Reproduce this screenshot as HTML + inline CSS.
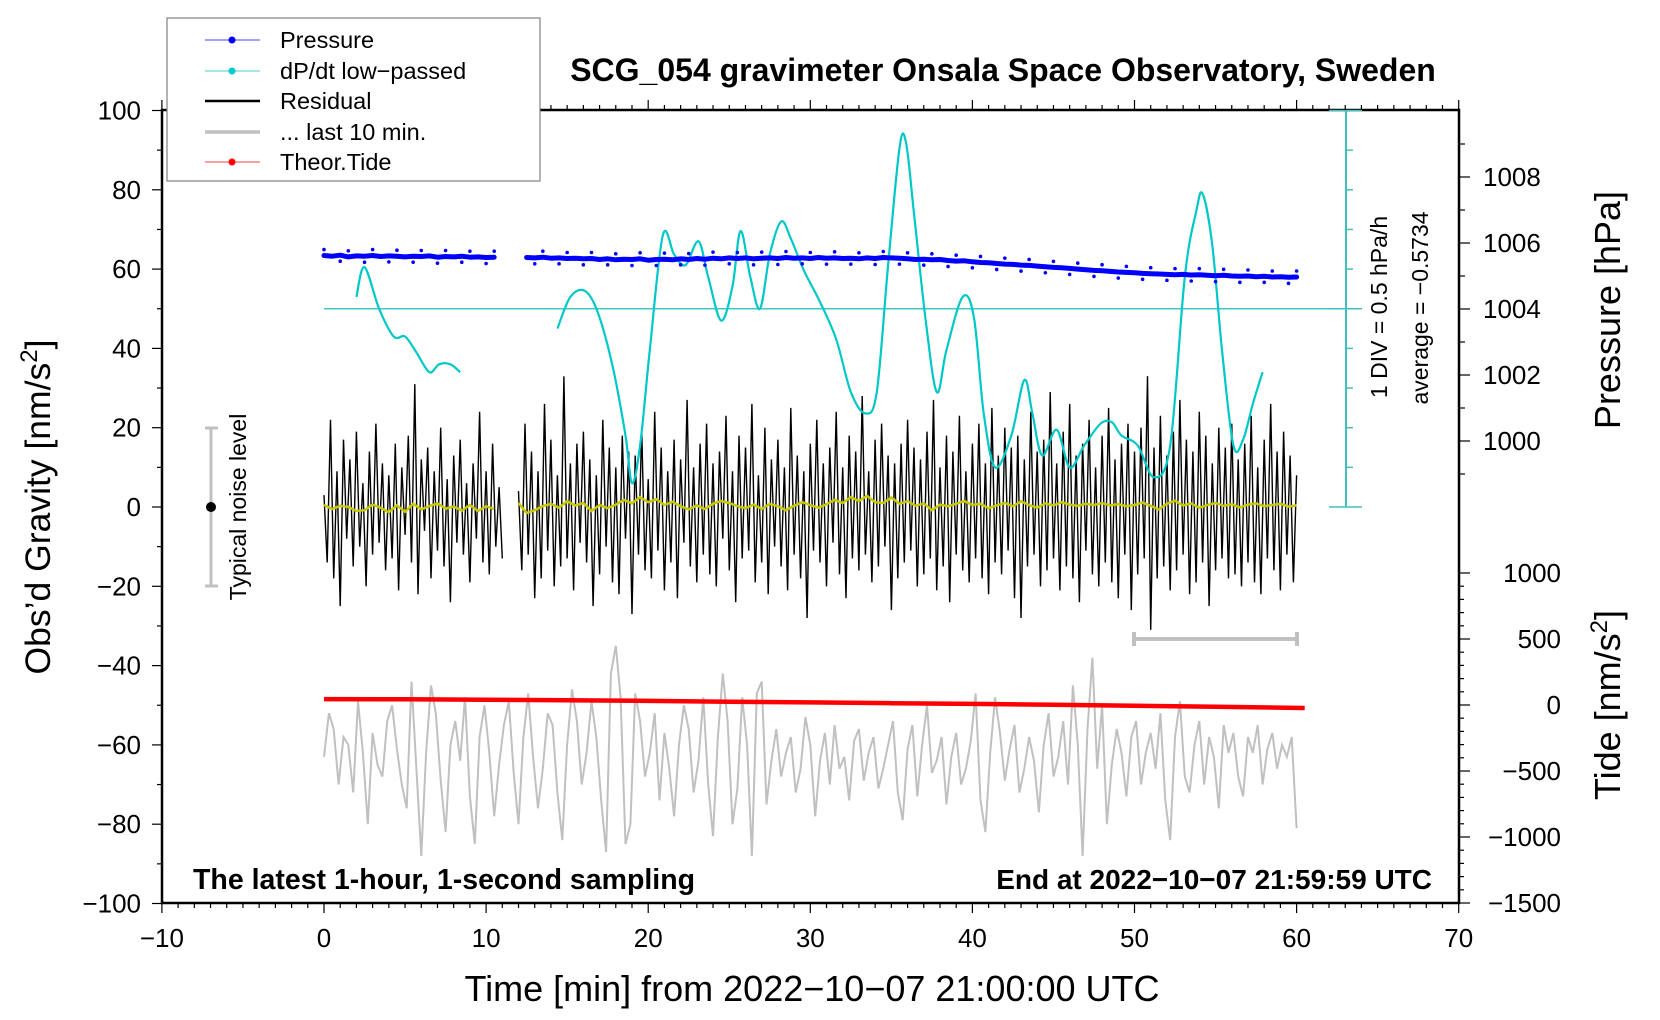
<!DOCTYPE html>
<html><head><meta charset="utf-8"><style>
body{margin:0;background:#fff}
svg{display:block;font-family:"Liberation Sans",Arial,sans-serif}
</style></head><body>
<svg id="c" width="1660" height="1020" viewBox="0 0 1660 1020" xmlns="http://www.w3.org/2000/svg">
<rect x="0" y="0" width="1660" height="1020" fill="#fff"/>
<g id="marks"></g>
<rect x="162" y="110" width="1297" height="793" fill="none" stroke="#000" stroke-width="2.5"/>
<g id="axes"></g>
<text x="1003" y="81" text-anchor="middle" font-size="32" font-weight="bold">SCG_054 gravimeter Onsala Space Observatory, Sweden</text>
<text x="193" y="889" font-size="28.5" font-weight="bold">The latest 1-hour, 1-second sampling</text>
<text x="1432" y="889" text-anchor="end" font-size="28" font-weight="bold">End at 2022−10−07 21:59:59 UTC</text>
<text x="812" y="1001" text-anchor="middle" font-size="36">Time [min] from 2022−10−07 21:00:00 UTC</text>
<text transform="translate(50,507) rotate(-90)" text-anchor="middle" font-size="35.5">Obs’d Gravity [nm/s<tspan dy="-13" font-size="24">2</tspan><tspan dy="13">]</tspan></text>
<text transform="translate(1620,310) rotate(-90)" text-anchor="middle" font-size="36">Pressure [hPa]</text>
<text transform="translate(1620,705) rotate(-90)" text-anchor="middle" font-size="36">Tide [nm/s<tspan dy="-13" font-size="24">2</tspan><tspan dy="13">]</tspan></text>
<text transform="translate(1387,307) rotate(-90)" text-anchor="middle" font-size="23">1 DIV = 0.5 hPa/h</text>
<text transform="translate(1428,308) rotate(-90)" text-anchor="middle" font-size="23">average = −0.5734</text>
<g>
<line x1="211" y1="428" x2="211" y2="586" stroke="#c0c0c0" stroke-width="3"/>
<line x1="205" y1="428" x2="218" y2="428" stroke="#c0c0c0" stroke-width="3"/>
<line x1="205" y1="586" x2="218" y2="586" stroke="#c0c0c0" stroke-width="3"/>
<circle cx="211" cy="507" r="5" fill="#000"/>
<text transform="translate(246,507) rotate(-90)" text-anchor="middle" font-size="23">Typical noise level</text>
</g>
<g>
<line x1="1134" y1="639" x2="1297" y2="639" stroke="#c0c0c0" stroke-width="4"/>
<line x1="1134" y1="632" x2="1134" y2="646" stroke="#c0c0c0" stroke-width="4"/>
<line x1="1297" y1="632" x2="1297" y2="646" stroke="#c0c0c0" stroke-width="4"/>
</g>
<g>
<rect x="167" y="18" width="373" height="163" fill="#fff" stroke="#808080" stroke-width="1.2"/>
<g><line x1="205" y1="40" x2="260" y2="40" stroke="#4040ff" stroke-width="1"/><circle cx="232" cy="40" r="3.5" fill="#0000ff"/><text x="280" y="48" font-size="23.5">Pressure</text></g>
<g><line x1="205" y1="71" x2="260" y2="71" stroke="#40d0d0" stroke-width="1"/><circle cx="232" cy="71" r="3.5" fill="#00cccc"/><text x="280" y="79" font-size="23.5">dP/dt low−passed</text></g>
<g><line x1="205" y1="101" x2="260" y2="101" stroke="#000" stroke-width="2.5"/><text x="280" y="109" font-size="23.5">Residual</text></g>
<g><line x1="205" y1="132" x2="260" y2="132" stroke="#c0c0c0" stroke-width="3.5"/><text x="280" y="140" font-size="23.5">... last 10 min.</text></g>
<g><line x1="205" y1="162" x2="260" y2="162" stroke="#ff4040" stroke-width="1"/><circle cx="232" cy="162" r="3.5" fill="#ff0000"/><text x="280" y="170" font-size="23.5">Theor.Tide</text></g>
</g>
</svg>
<script>
// ---- data ----
const residualStep = 0.2;
const residualValues = [
3,-14,22,-18,9,-25,17,-8,12,-15,19,-10,6,-20,14,-12,21,-9,11,-16,
8,-13,16,-21,10,-7,18,-14,31,-22,12,-6,15,-18,9,-11,20,-15,7,-24,
13,-9,17,-12,6,-19,11,-8,24,-14,9,-17,16,-10,5,-13,null,null,null,null,
4,-16,21,-12,14,-23,9,-18,26,-11,17,-20,8,-15,33,-13,11,-21,16,-9,
19,-14,12,-25,8,-17,22,-10,15,-19,10,-22,18,-8,14,-27,13,-12,20,-16,
7,-18,24,-11,15,-21,9,-14,17,-23,12,-9,27,-15,10,-19,16,-12,21,-17,
11,-20,14,-8,23,-16,9,-24,18,-13,15,-11,26,-19,8,-14,20,-22,12,-10,
17,-15,10,-21,25,-12,13,-18,9,-28,16,-11,22,-14,11,-20,15,-9,24,-17,
10,-23,18,-13,14,-16,28,-12,9,-19,17,-15,21,-10,13,-26,11,-18,16,-14,
22,-11,15,-20,12,-17,19,-13,27,-21,10,-15,18,-24,14,-12,23,-16,9,-19,
16,-13,21,-18,11,-22,25,-14,13,-17,20,-11,15,-23,18,-28,12,-15,24,-12,
14,-20,17,-16,29,-13,11,-21,19,-15,26,-18,13,-24,16,-11,22,-17,10,-20,
18,-14,25,-19,12,-23,16,-12,21,-26,14,-17,20,-13,33,-31,15,-18,23,-15,
13,-21,19,-16,27,-12,17,-22,14,-19,24,-14,18,-25,11,-16,20,-13,15,-18,
21,-17,12,-20,16,-14,23,-19,10,-22,17,-13,26,-16,14,-21,19,-12,13,-19,
8];
const smoothStep = 0.5;
const smoothValues = [0.5,-0.5,0.3,0,-1,-0.8,0.6,-0.2,-1.3,0.4,-1.2,0.8,-0.6,0.2,0.9,-0.4,0.1,-0.9,0.5,-1.0,0.2,-0.5,null,null,
1.0,-1.5,-0.8,0.2,0.8,-0.2,1.5,0.4,1.0,-1.0,0.5,-0.3,0.6,1.8,0.9,2.5,1.2,2.0,0.5,1.3,0.2,-0.6,0.4,-0.5,0.8,1.5,1.0,0.2,-0.3,0.6,-0.5,0.8,0.2,-0.8,0.3,1.2,0.5,-0.2,0.7,1.8,1.0,2.5,1.5,2.8,1.2,1.0,2.4,0.8,1.5,0.3,0.9,-0.8,0.6,0.2,0.8,1.5,0.5,0.8,-0.3,0.4,1.0,0.2,1.4,0.5,-0.2,0.9,0.4,1.2,0.6,0.3,0.8,0.5,1.0,0.4,0.7,0.2,0.5,
1.1,0.3,-0.6,0.8,1.6,0.4,0.9,-0.2,0.5,1.0,0.3,0.7,-0.1,0.6,0.9,0.2,0.5,0.8,0.1,0.4];
const greyStep = 0.3;
const greyValues = [
-63,-52,-56,-70,-58,-60,-72,-49,-62,-80,-57,-65,-68,-54,-50,-61,-70,-76,-44,-66,
-88,-62,-45,-52,-69,-82,-60,-54,-64,-48,-73,-85,-58,-50,-62,-78,-65,-55,-49,-67,
-80,-58,-47,-63,-76,-66,-52,-55,-72,-84,-60,-46,-54,-70,-62,-49,-58,-74,-87,-42,
-35,-48,-85,-80,-47,-54,-68,-62,-52,-74,-57,-66,-78,-60,-50,-56,-72,-64,-48,-70,
-83,-58,-42,-54,-80,-71,-48,-60,-88,-47,-44,-75,-64,-56,-68,-62,-58,-72,-66,-53,
-60,-78,-64,-57,-70,-55,-66,-63,-74,-59,-56,-69,-62,-58,-71,-66,-60,-54,-72,-79,
-61,-55,-73,-60,-50,-67,-64,-58,-75,-63,-57,-70,-66,-59,-47,-74,-82,-62,-48,-57,
-69,-61,-55,-72,-66,-58,-64,-77,-60,-52,-68,-63,-54,-70,-45,-60,-88,-56,-38,-66,
-50,-80,-65,-56,-62,-73,-58,-54,-70,-62,-57,-66,-52,-74,-84,-58,-49,-68,-72,-60,
-54,-70,-58,-63,-76,-55,-62,-57,-68,-73,-58,-62,-55,-70,-61,-57,-66,-60,-63,-58,
-81];
const pressureStep = 0.5;
const pressureValues = [1005.62,1005.60,1005.63,1005.58,1005.61,1005.60,1005.62,1005.59,1005.61,1005.60,1005.58,1005.60,1005.59,1005.61,1005.57,1005.59,1005.58,1005.60,1005.57,1005.58,1005.56,1005.57,null,null,null,
1005.56,1005.55,1005.57,1005.54,1005.55,1005.53,1005.54,1005.52,1005.53,1005.50,1005.52,1005.49,1005.51,1005.50,1005.52,1005.48,1005.50,1005.51,1005.49,1005.52,
1005.50,1005.53,1005.51,1005.54,1005.52,1005.55,1005.53,1005.55,1005.52,1005.54,1005.55,1005.53,1005.56,1005.54,1005.55,1005.53,1005.56,1005.54,1005.55,1005.53,
1005.54,1005.52,1005.55,1005.53,1005.56,1005.55,1005.54,1005.52,1005.50,1005.51,1005.49,1005.50,1005.47,1005.45,1005.46,1005.43,1005.41,1005.40,1005.38,1005.36,
1005.35,1005.33,1005.32,1005.30,1005.28,1005.26,1005.25,1005.23,1005.21,1005.19,1005.17,1005.16,1005.14,1005.12,1005.11,1005.10,1005.08,1005.07,1005.06,1005.05,
1005.04,1005.05,1005.03,1005.04,1005.02,1005.01,1005.02,1005.00,1004.99,1005.00,1004.98,1004.99,1004.97,1004.98,1004.96,1004.97];
const dpdtSeg1T = [2.0,2.5,3.4,4.3,5.0,5.7,6.5,7.1,7.8,8.4];
const dpdtSeg1V = [53,60.5,50,43,43,39,34,36,36,34];
const dpdtSeg2T = [14.4,15.2,16.1,16.9,17.8,18.6,19.0,19.5,20.1,20.9,21.6,22.3,23.1,23.7,24.5,25.2,25.7,26.3,26.9,27.5,28.2,28.8,29.6,30.6,31.6,32.5,33.4,34.1,34.8,35.5,35.9,36.4,37.1,37.8,38.4,39.4,40.1,40.7,41.4,42.4,43.2,43.7,44.3,45.2,46,46.9,47.9,48.6,49.2,50.2,51.2,52.2,53.1,53.8,54.2,54.8,55.4,56.1,56.7,57.3,57.9];
const dpdtSeg2V = [45,53,54.5,49,35.6,18,6,15.5,39.6,68.5,63.7,61,67,58,47,55.7,69.6,58,50,63.7,72,67.7,59.7,51.7,42.3,29,23.6,29,61,90.5,92,74,47.7,29,39.6,53,47.7,23.6,10,18,32,23.6,13,19.5,10,15.5,21,21.4,18,15.5,7.5,15.5,58,74.4,79,66,39.6,15.5,17,26,34];
const tideTimes = [0,5,10,15,20,25,30,35,40,45,50,55,60.5];
const tideValues = [45,43,40,36,31,25,20,14,8,2,-6,-14,-23];
const xTicks = [-10,0,10,20,30,40,50,60,70];
const yTicks = [100,80,60,40,20,0,-20,-40,-60,-80,-100];
const pTicks = [1008,1006,1004,1002,1000];
const tTicks = [1000,500,0,-500,-1000,-1500];

// ---- scales ----
const X = t => 324 + t*16.21;
const Y = g => 507 - g*3.965;
const P = p => 177 + (1008-p)*33;
const T = v => 705 - v*0.132;
const NS = 'http://www.w3.org/2000/svg';
const marks = document.getElementById('marks');
const axes = document.getElementById('axes');
function mk(tag, attrs, parent){const e=document.createElementNS(NS,tag);for(const k in attrs)e.setAttribute(k,attrs[k]);parent.appendChild(e);return e;}
function segs(ts, vs, fy){const out=[];let cur=[];for(let i=0;i<vs.length;i++){if(vs[i]==null){if(cur.length)out.push(cur);cur=[];}else cur.push(X(ts(i)).toFixed(1)+','+fy(vs[i]).toFixed(1));}if(cur.length)out.push(cur);return out;}
function smoothPath(pts){let d='M'+pts[0][0].toFixed(1)+','+pts[0][1].toFixed(1);
for(let i=0;i<pts.length-1;i++){const p0=pts[Math.max(0,i-1)],p1=pts[i],p2=pts[i+1],p3=pts[Math.min(pts.length-1,i+2)];
const c1=[p1[0]+(p2[0]-p0[0])/6,p1[1]+(p2[1]-p0[1])/6],c2=[p2[0]-(p3[0]-p1[0])/6,p2[1]-(p3[1]-p1[1])/6];
d+=' C'+c1[0].toFixed(1)+','+c1[1].toFixed(1)+' '+c2[0].toFixed(1)+','+c2[1].toFixed(1)+' '+p2[0].toFixed(1)+','+p2[1].toFixed(1);}return d;}

// grey last-10-min
segs(i=>i*greyStep, greyValues, Y).forEach(s=>{const e=mk('polyline',{points:s.join(' '),fill:'none',stroke:'#c0c0c0','stroke-width':2},marks);

});
// tide
{const pts=tideTimes.map((t,i)=>X(t).toFixed(1)+','+T(tideValues[i]).toFixed(1)).join(' ');
const e=mk('polyline',{points:pts,fill:'none',stroke:'#ff0000','stroke-width':4.5},marks);

}
// residual
segs(i=>i*residualStep, residualValues, Y).forEach(s=>{const e=mk('polyline',{points:s.join(' '),fill:'none',stroke:'#000','stroke-width':1.4},marks);

});
// smoothed
segs(i=>i*smoothStep, smoothValues, Y).forEach(s=>{const e=mk('polyline',{points:s.join(' '),fill:'none',stroke:'#c8c800','stroke-width':2.5},marks);

});
// average line
{const e=mk('line',{x1:X(0),y1:Y(50),x2:1362,y2:Y(50),stroke:'#40c8c8','stroke-width':1.5},marks);

}
// dp/dt
[[dpdtSeg1T,dpdtSeg1V],[dpdtSeg2T,dpdtSeg2V]].forEach(([ts,vs])=>{
const e=mk('path',{d:smoothPath(ts.map((t,i)=>[X(t),Y(vs[i])])),fill:'none',stroke:'#00c8c8','stroke-width':2.2,'stroke-linejoin':'round'},marks);

});
// pressure
segs(i=>i*pressureStep, pressureValues, P).forEach(s=>{const e=mk('polyline',{points:s.join(' '),fill:'none',stroke:'#0000ff','stroke-width':5,'stroke-linecap':'round','stroke-linejoin':'round'},marks);

});
pressureValues.forEach((p,i)=>{if(p==null)return;const c=mk('circle',{cx:X(i*pressureStep),cy:P(p)+((i%3)-1)*6,r:1.8,fill:'#0000ff'},marks);

});

// dp/dt scale bar
mk('line',{x1:1346,y1:Y(100),x2:1346,y2:Y(0),stroke:'#40c0c0','stroke-width':2},axes);
for(let v=0;v<=100;v+=10){const major=(v%50===0);mk('line',{x1:major?1329:1346,y1:Y(v),x2:major?1362:1353,y2:Y(v),stroke:'#40c0c0','stroke-width':1.5},axes);}

// x ticks
for(let t=-10;t<=70;t+=1){const major=t%10===0;mk('line',{x1:X(t),y1:903,x2:X(t),y2:903+(major?10:5),stroke:'#000','stroke-width':1.2},axes);mk('line',{x1:X(t),y1:110,x2:X(t),y2:110-(major?10:5),stroke:'#000','stroke-width':1.2},axes);}
xTicks.forEach(t=>{const e=mk('text',{x:X(t),y:947,'text-anchor':'middle','font-size':26},axes);e.textContent=String(t).replace('-','−');

});
// y ticks
for(let g=-100;g<=100;g+=10){const major=g%20===0;mk('line',{x1:162,y1:Y(g),x2:162-(major?10:5),y2:Y(g),stroke:'#000','stroke-width':1.2},axes);}
yTicks.forEach(g=>{const e=mk('text',{x:141,y:Y(g)+9,'text-anchor':'end','font-size':26},axes);e.textContent=String(g).replace('-','−');

});
// pressure ticks
for(let p=999;p<=1009;p+=1){const major=p%2===0;mk('line',{x1:1459,y1:P(p),x2:1459+(major?11:6),y2:P(p),stroke:'#000','stroke-width':1.2},axes);}
pTicks.forEach(p=>{const e=mk('text',{x:1483,y:P(p)+9,'font-size':26},axes);e.textContent=p;

});
// tide ticks
for(let v=-1500;v<=1000;v+=100){const major=v%500===0;mk('line',{x1:1459,y1:T(v),x2:1459+(major?11:5),y2:T(v),stroke:'#000','stroke-width':1.2},axes);}
tTicks.forEach(v=>{const e=mk('text',{x:1561,y:T(v)+9,'text-anchor':'end','font-size':26},axes);e.textContent=String(v).replace('-','−');

});
</script>
</body></html>
